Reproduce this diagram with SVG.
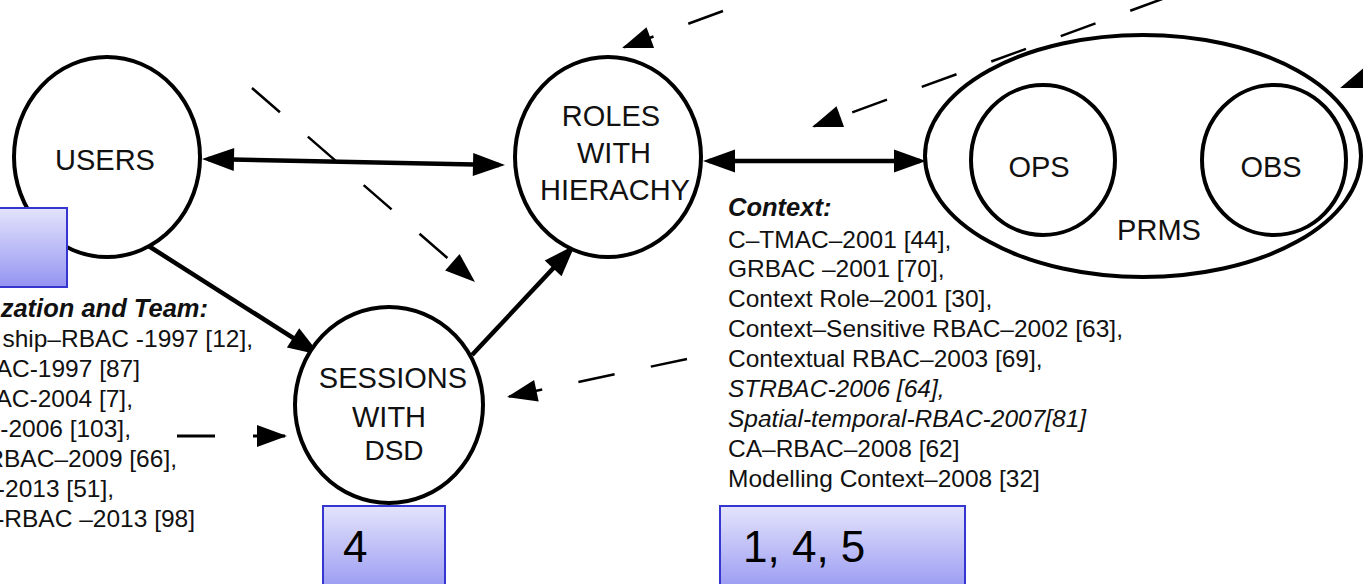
<svg xmlns="http://www.w3.org/2000/svg" width="1363" height="584" viewBox="0 0 1363 584">
<style>
.node{fill:#fff;stroke:#000;stroke-width:4}
.lbl{font-family:"Liberation Sans",Arial,sans-serif;font-size:29px;fill:#111;text-anchor:middle}
.txt{font-family:"Liberation Sans",Arial,sans-serif;font-size:24.5px;fill:#111}
.hdr{font-weight:bold;font-style:italic;font-size:25.5px}
.it{font-style:italic}
.solid{fill:none;stroke:#000;stroke-width:4.5}
.dash{fill:none;stroke:#000;stroke-width:2.5;stroke-dasharray:37 37}
.box{fill:url(#bg);stroke:#3535d0;stroke-width:2}
.num{font-family:"Liberation Sans",Arial,sans-serif;font-size:44px;fill:#000}
</style>
<defs>
<linearGradient id="bg" x1="0" y1="0" x2="0" y2="1">
<stop offset="0" stop-color="#e4e4fc"/>
<stop offset="1" stop-color="#9494f2"/>
</linearGradient>
<marker id="a" markerUnits="userSpaceOnUse" markerWidth="32" markerHeight="23" refX="26" refY="11.5" orient="auto-start-reverse" overflow="visible">
<path d="M0,0 L32,11.5 L0,23 z" fill="#000"/>
</marker>
<marker id="d" markerUnits="userSpaceOnUse" markerWidth="30" markerHeight="22" refX="28" refY="11" orient="auto" overflow="visible">
<path d="M0,0 L30,11 L0,22 z" fill="#000"/>
</marker>
<marker id="s" markerUnits="userSpaceOnUse" markerWidth="28" markerHeight="22" refX="24" refY="11" orient="auto-start-reverse" overflow="visible">
<path d="M0,0 L28,11 L0,22 z" fill="#000"/>
</marker>
</defs>

<rect width="1363" height="584" fill="#fff"/>

<g id="connectors">
<line class="solid" x1="208" y1="159" x2="499" y2="165" marker-start="url(#a)" marker-end="url(#a)"/>
<line class="solid" x1="709" y1="161" x2="920" y2="161" marker-start="url(#a)" marker-end="url(#a)"/>
<line class="solid" x1="147" y1="245" x2="315" y2="351.8" marker-end="url(#a)"/>
<line class="solid" x1="472" y1="355" x2="570.9" y2="249.4" marker-end="url(#a)"/>
<line class="solid" style="stroke-width:5" x1="1121" y1="165" x2="1194" y2="165" marker-start="url(#s)" marker-end="url(#s)"/>
<line class="dash" x1="252" y1="88" x2="473.5" y2="280.7" marker-end="url(#d)"/>
<line class="dash" x1="687" y1="359" x2="509" y2="396.6" marker-end="url(#d)"/>
<line class="dash" x1="723" y1="11" x2="624" y2="47.3" marker-end="url(#d)"/>
<line class="dash" x1="1165" y1="-2" x2="814" y2="126.3" marker-end="url(#d)"/>
<line class="dash" x1="1396" y1="67.3" x2="1342" y2="87.3" marker-end="url(#d)"/>
<line class="dash" style="stroke-width:3;stroke-dasharray:38 38" x1="177" y1="436" x2="285" y2="436" marker-end="url(#d)"/>
</g>

<g id="users">
<ellipse class="node" cx="107" cy="157" rx="93" ry="100"/>
<text class="lbl" x="105" y="170">USERS</text>
</g>

<g id="roles">
<ellipse class="node" cx="608" cy="157" rx="93" ry="100"/>
<text class="lbl" x="611" y="126">ROLES</text>
<text class="lbl" x="614" y="163">WITH</text>
<text class="lbl" x="615" y="200">HIERACHY</text>
</g>

<g id="sessions">
<ellipse class="node" cx="389" cy="405" rx="94" ry="98"/>
<text class="lbl" x="393" y="388">SESSIONS</text>
<text class="lbl" x="389" y="427">WITH</text>
<text class="lbl" x="394" y="460" style="font-size:28px">DSD</text>
</g>

<g id="prms">
<ellipse class="node" cx="1143" cy="156" rx="218" ry="121"/>
<text class="lbl" x="1159" y="240">PRMS</text>
</g>

<g id="ops">
<ellipse class="node" cx="1043" cy="160" rx="72" ry="75"/>
<text class="lbl" x="1039" y="177">OPS</text>
</g>

<g id="obs">
<ellipse class="node" cx="1274" cy="160" rx="72" ry="75"/>
<text class="lbl" x="1271" y="177">OBS</text>
</g>

<g id="context-text" class="txt">
<text class="txt hdr" x="728" y="216">Context:</text>
<text class="txt" x="728" y="248">C–TMAC–2001 [44],</text>
<text class="txt" x="728" y="277">GRBAC –2001 [70],</text>
<text class="txt" x="728" y="307">Context Role–2001 [30],</text>
<text class="txt" x="728" y="337">Context–Sensitive RBAC–2002 [63],</text>
<text class="txt" x="728" y="367">Contextual RBAC–2003 [69],</text>
<text class="txt it" x="728" y="397">STRBAC-2006 [64],</text>
<text class="txt it" x="728" y="427">Spatial-temporal-RBAC-2007[81]</text>
<text class="txt" x="728" y="457">CA–RBAC–2008 [62]</text>
<text class="txt" x="728" y="487">Modelling Context–2008 [32]</text>
</g>

<g id="team-text" style="text-anchor:end">
<text class="txt hdr" x="208" y="317" text-anchor="end">zation and Team:</text>
<text class="txt" x="253" y="347" text-anchor="end">ship–RBAC -1997 [12],</text>
<text class="txt" x="140" y="377" text-anchor="end">AC-1997 [87]</text>
<text class="txt" x="133" y="407" text-anchor="end">AC-2004 [7],</text>
<text class="txt" x="131" y="437" text-anchor="end">-2006 [103],</text>
<text class="txt" x="177" y="467" text-anchor="end">RBAC–2009 [66],</text>
<text class="txt" x="114" y="497" text-anchor="end">-2013 [51],</text>
<text class="txt" x="195" y="527" text-anchor="end">-RBAC –2013 [98]</text>
</g>

<g id="box-users">
<rect class="box" x="-2" y="208" width="69" height="79"/>
</g>
<g id="box-sessions">
<rect class="box" x="323" y="506" width="122" height="90"/>
<text class="num" x="343" y="562">4</text>
</g>
<g id="box-context">
<rect class="box" x="720" y="506" width="245" height="90"/>
<text class="num" x="743" y="562">1, 4, 5</text>
</g>
</svg>
